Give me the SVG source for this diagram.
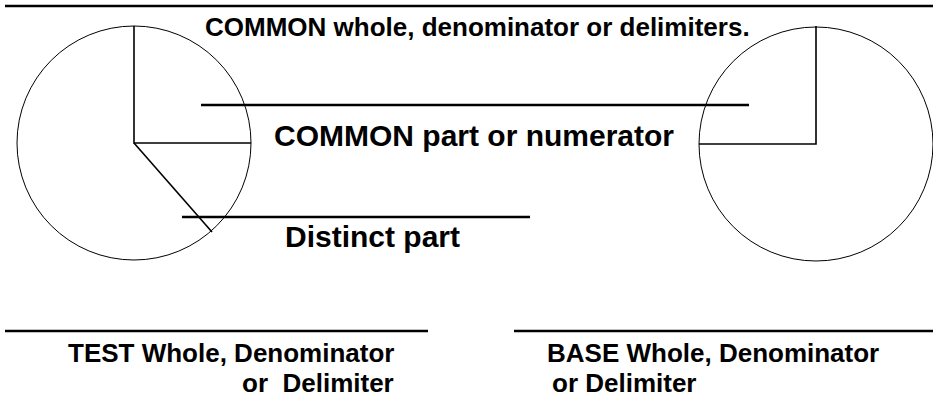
<svg xmlns="http://www.w3.org/2000/svg" width="933" height="398" viewBox="0 0 933 398">
<style>
.bg{fill:#fff}
.circ{fill:none;stroke:#000;stroke-width:1}
.pie{fill:none;stroke:#000;stroke-width:1.6}
.rule{stroke:#000;stroke-width:2.6;fill:none}
.t{font-family:"Liberation Sans",Arial,sans-serif;font-weight:bold;fill:#000}
.s26{font-size:26px}
.s30{font-size:30px}
</style>
<rect class="bg" x="0" y="0" width="933" height="398"/>
<g id="top-rule"><line class="rule" x1="5" y1="6" x2="933" y2="6"/></g>
<g id="test-circle">
<circle class="circ" cx="134" cy="143" r="117"/>
<polyline class="pie" points="134,26 134,143 251,143"/>
<line class="pie" x1="134" y1="143" x2="212" y2="232"/>
</g>
<g id="base-circle">
<circle class="circ" cx="816" cy="144" r="117"/>
<polyline class="pie" points="816,26 816,144 699,144"/>
</g>
<g id="connectors">
<line class="rule" x1="201" y1="105" x2="749" y2="105"/>
<line class="rule" x1="182" y1="217" x2="530" y2="217"/>
<line class="rule" x1="5" y1="331" x2="428" y2="331"/>
<line class="rule" x1="514" y1="331" x2="933" y2="331"/>
</g>
<g id="label-common-whole"><text class="t s26" x="205" y="36">COMMON whole, denominator or delimiters.</text></g>
<g id="label-common-part"><text class="t s30" x="274" y="146">COMMON part or numerator</text></g>
<g id="label-distinct"><text class="t s30" x="285" y="247">Distinct part</text></g>
<g id="label-test"><text class="t s26" x="68" y="362">TEST Whole, Denominator</text><text class="t s26" x="242" y="392" xml:space="preserve">or  Delimiter</text></g>
<g id="label-base"><text class="t s26" x="547" y="362">BASE Whole, Denominator</text><text class="t s26" x="552" y="392">or Delimiter</text></g>
</svg>
